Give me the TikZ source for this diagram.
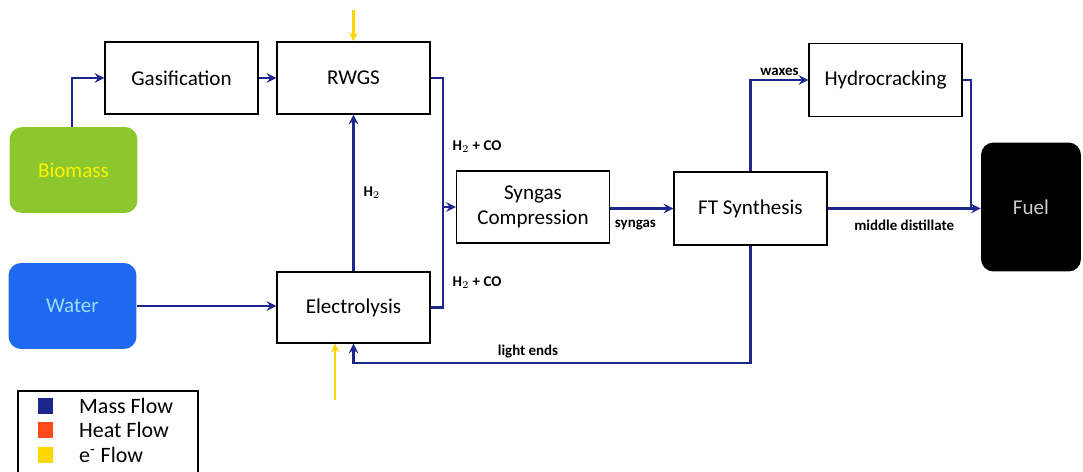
\documentclass[tikz,border=0pt]{standalone}
\usepackage{fontspec}
\setmainfont{Carlito}
\usepackage{tikz}

\definecolor{massblue}{RGB}{28,38,140}
\definecolor{heatred}{RGB}{250,75,25}
\definecolor{eyellow}{RGB}{255,215,0}
\definecolor{biogreen}{RGB}{140,200,45}
\definecolor{waterblue}{RGB}{30,105,240}

\begin{document}
\begin{tikzpicture}[
    x=0.02cm, y=-0.02cm,
    >=stealth,
    proc/.style={draw, rectangle, fill=white, minimum height=1.44cm, minimum width=3.06cm, align=center, font=\fontsize{12}{14}\selectfont, thick},
    feed/.style={rectangle, rounded corners=0.25cm, minimum height=1.72cm, minimum width=2.56cm, align=center, font=\fontsize{12}{14}\selectfont},
    lbl/.style={font=\fontsize{8.5}{10}\selectfont\bfseries, inner sep=1pt},
    flow/.style={line width=1.4pt, draw=massblue},
    eflow/.style={->, line width=1.2pt, draw=eyellow},
    key/.style={minimum size=0.32cm, inner sep=0pt}
]
    \useasboundingbox (0,0) rectangle (1083,471);

    % Feed nodes
    \node[feed, fill=biogreen, text=yellow] (bio) at (73.5,170) {Biomass};
    \node[feed, fill=waterblue, text=cyan!40] (water) at (72.5,306) {Water};
    \node[feed, fill=black, text=gray!40, minimum width=2cm, minimum height=2.58cm] (fuel) at (1031,207) {Fuel};

    % Process nodes
    \node[proc] (gas) at (181.5,78) {Gasification};
    \node[proc] (rwgs) at (353.5,78) {RWGS};
    \node[proc, minimum height=1.42cm] (elec) at (353.5,307.5) {Electrolysis};
    \node[proc] (syn) at (533,207) {Syngas\\Compression};
    \node[proc, minimum height=1.46cm] (ft) at (750.5,208.5) {FT Synthesis};
    \node[proc, minimum height=1.46cm] (hc) at (885.5,80) {Hydrocracking};

    % Junctions
    \coordinate (mix) at (443,207);
    \coordinate (prod) at (971,207);
    \coordinate (ret) at (353.5,363);
    \coordinate (eTop) at (353.5,10);
    \coordinate (eBot) at (335,400);

    % Mass flows
    \draw[flow, ->] (bio.north -| 72,0) |- (gas.west);
    \draw[flow, ->] (gas) -- (rwgs);
    \draw[flow, ->] (water.east) -- (elec.west |- water.east);
    \draw[flow, ->] (elec) -- (rwgs) node[lbl, pos=0.5, right=4pt] {H$_2$};
    \draw[flow, ->] (rwgs.east) -| (mix) -- (syn.west);
    \draw[flow] (elec.east) -| (mix);
    \draw[flow, ->] (syn.east |- ft.west) -- (ft.west) node[lbl, pos=0.4, below=5pt] {syngas};
    \draw[flow, ->] (ft.north) |- (hc.west) node[lbl, pos=0.75, above=1pt] {waxes};
    \draw[flow] (hc.east) -| (prod);
    \draw[flow, ->] (ft.east) -- (fuel.west |- ft.east) node[lbl, pos=0.5, below=5pt] {middle distillate};
    \draw[flow, ->] (ft.south) |- (ret) -- (elec.south);
    \node[lbl] at (528,352) {light ends};
    \node[lbl] at (477,147) {H$_2$ + CO};
    \node[lbl] at (477,283) {H$_2$ + CO};

    % e- flows
    \draw[eflow] (eTop) -- (rwgs.north);
    \draw[eflow] (eBot) -- (eBot |- elec.south);

    % Legend
    \draw[thick] (18,474) -- (18,391) -- (198,391) -- (198,474);
    \node[key, fill=massblue] (kMass) at (45.5,406) {};
    \node[key, fill=heatred] (kHeat) at (45.5,429.5) {};
    \node[key, fill=eyellow] (kE) at (45.5,455) {};
    \node[anchor=west, font=\fontsize{12.5}{14}\selectfont] at (73,406) {Mass Flow};
    \node[anchor=west, font=\fontsize{12.5}{14}\selectfont] at (73,429.5) {Heat Flow};
    \node[anchor=west, font=\fontsize{12.5}{14}\selectfont] at (73,455) {e\textsuperscript{-} Flow};

\end{tikzpicture}
\end{document}
